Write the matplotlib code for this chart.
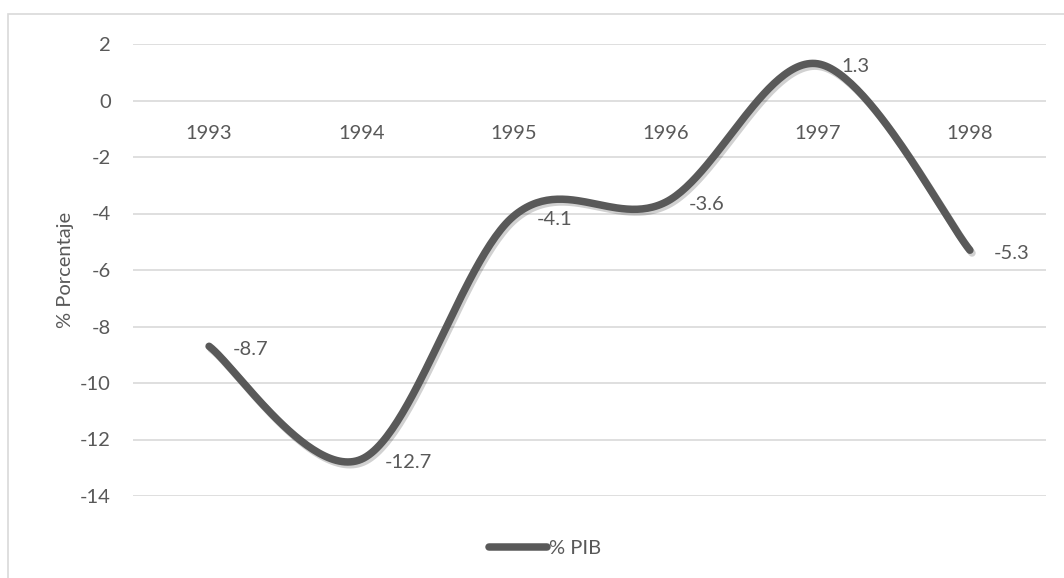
import matplotlib
matplotlib.use("Agg")
import matplotlib.pyplot as plt
import matplotlib.patheffects as pe
from matplotlib.patches import Rectangle
import numpy as np

# Datos
anios = ["1993", "1994", "1995", "1996", "1997", "1998"]
pib = [-8.7, -12.7, -4.1, -3.6, 1.3, -5.3]
y_ticks = [2, 0, -2, -4, -6, -8, -10, -12, -14]

plt.rcParams['font.family'] = ['Lato', 'DejaVu Sans']
gris_texto = '#595959'
gris_linea = '#595959'
gris_grid = '#d9d9d9'
tam = 14.5


# Curva suavizada estilo Excel (Bezier tipo Catmull-Rom)
def suavizar(xs, ys, pasos=60):
    pts = np.column_stack([xs, ys]).astype(float)
    ext = np.vstack([pts[0], pts, pts[-1]])
    salida = []
    for i in range(len(pts) - 1):
        p0, p1, p2, p3 = ext[i], ext[i + 1], ext[i + 2], ext[i + 3]
        c1 = p1 + (p2 - p0) / 6.0
        c2 = p2 - (p3 - p1) / 6.0
        t = np.linspace(0, 1, pasos)[:, None]
        seg = ((1 - t) ** 3) * p1 + 3 * ((1 - t) ** 2) * t * c1 + 3 * (1 - t) * t ** 2 * c2 + t ** 3 * p2
        salida.append(seg if i == 0 else seg[1:])
    s = np.vstack(salida)
    return s[:, 0], s[:, 1]


fig = plt.figure(figsize=(10.64, 5.78), dpi=100)
ax = fig.add_axes([133 / 1064, 1 - 496 / 578, (1046 - 133) / 1064, (496 - 44) / 578])

# Marco del gráfico
fig.patches.append(Rectangle((8 / 1064, -0.1), 1.2, 1 - 14 / 578 + 0.1, transform=fig.transFigure,
                             fill=False, edgecolor=gris_grid, linewidth=1.2))

x = np.arange(len(anios))
sx, sy = suavizar(x, pib)
ax.plot(sx, sy, color=gris_linea, linewidth=5.4, solid_capstyle='round', zorder=3,
        path_effects=[pe.SimpleLineShadow(offset=(1.5, -2), shadow_color='k', alpha=0.18),
                      pe.Normal()])

for i, v in enumerate(pib):
    ax.annotate(f"{v:.1f}", (i, v), xytext=(17, -2), textcoords='offset points',
                ha='left', va='center', fontsize=tam, color=gris_texto, zorder=4)

# Etiquetas de categoría bajo la línea del cero
for i, a in enumerate(anios):
    ax.annotate(a, (i, 0), xytext=(0, -24), textcoords='offset points',
                ha='center', va='center', fontsize=tam, color=gris_texto)

ax.set_xlim(-0.5, len(anios) - 0.5)
ax.set_ylim(-14, 2)
ax.set_yticks(y_ticks)
ax.set_yticklabels([str(t) for t in y_ticks])
ax.set_xticks([])
ax.tick_params(axis='y', length=0, pad=16, labelsize=tam, labelcolor=gris_texto)
ax.grid(axis='y', color=gris_grid, linewidth=1.2)
ax.set_axisbelow(True)
for s in ax.spines.values():
    s.set_visible(False)

ax.set_ylabel('% Porcentaje', fontsize=tam, color=gris_texto, labelpad=4)

handle = plt.Line2D([], [], color=gris_linea, linewidth=5.4, solid_capstyle='round')
fig.legend([handle], ['% PIB'], loc='center', bbox_to_anchor=(545 / 1064, 1 - 548 / 578),
           frameon=False, handlelength=2.9, handletextpad=0.1, fontsize=tam,
           labelcolor=gris_texto)

fig.savefig('out.png', dpi=100)
